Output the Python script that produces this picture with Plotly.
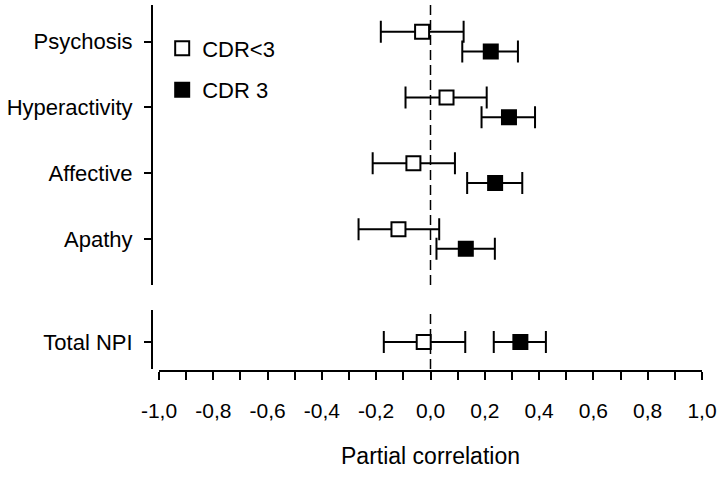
import plotly.graph_objects as go

# ---- data ----
categories = ["Psychosis", "Hyperactivity", "Affective", "Apathy"]
cat_pos = [4, 3, 2, 1]
total_label = ["Total NPI"]

low_r = [-0.031, 0.059, -0.063, -0.118]
low_lo = [-0.183, -0.092, -0.213, -0.265]
low_hi = [0.122, 0.207, 0.090, 0.032]

c3_r = [0.222, 0.289, 0.238, 0.130]
c3_lo = [0.117, 0.188, 0.135, 0.022]
c3_hi = [0.322, 0.385, 0.338, 0.237]

tot_low = [-0.025, -0.172, 0.128]   # r, lo, hi
tot_c3 = [0.331, 0.233, 0.425]

x_ticks = [-1.0, -0.8, -0.6, -0.4, -0.2, 0.0, 0.2, 0.4, 0.6, 0.8, 1.0]
x_ticklabels = ["-1,0", "-0,8", "-0,6", "-0,4", "-0,2", "0,0", "0,2", "0,4", "0,6", "0,8", "1,0"]

series_names = ["CDR<3", "CDR 3"]

FONT = "Liberation Sans Narrow, Arial Narrow, Liberation Sans, Arial, sans-serif"
off = 0.15

fig = go.Figure()

def add(xr, xlo, xhi, ys, fill, name, yaxis, show):
    fig.add_trace(go.Scatter(
        x=xr, y=ys, mode="markers", name=name, xaxis="x", yaxis=yaxis,
        legendgroup=name, showlegend=show,
        marker=dict(symbol="square", size=14, color=fill, line=dict(color="black", width=2)),
        error_x=dict(type="data", symmetric=False,
                     array=[h - r for r, h in zip(xr, xhi)],
                     arrayminus=[r - l for r, l in zip(xr, xlo)],
                     color="black", thickness=2, width=11),
    ))

add(low_r, low_lo, low_hi, [p + off for p in cat_pos], "white", series_names[0], "y2", True)
add(c3_r, c3_lo, c3_hi, [p - off for p in cat_pos], "black", series_names[1], "y2", True)
add([tot_low[0]], [tot_low[1]], [tot_low[2]], [0], "white", series_names[0], "y", False)
add([tot_c3[0]], [tot_c3[1]], [tot_c3[2]], [0], "black", series_names[1], "y", False)

for yr in ["y domain", "y2 domain"]:
    fig.add_shape(type="line", xref="x", yref=yr, x0=0, x1=0, y0=0, y1=1,
                  line=dict(color="black", width=1.5, dash="10px,5px"), layer="below")

fig.update_layout(
    width=718, height=478,
    margin=dict(l=150, r=14, t=5, b=107),
    plot_bgcolor="white", paper_bgcolor="white",
    font=dict(family=FONT, size=22, color="black"),
    showlegend=True,
    legend=dict(x=0.022, y=0.939, xanchor="left", yanchor="top",
                font=dict(size=22), tracegroupgap=10, itemwidth=30,
                bgcolor="rgba(0,0,0,0)"),
    xaxis=dict(domain=[0.01625, 0.9964], range=[-1.0, 1.0], anchor="free", position=0,
               tickvals=x_ticks, ticktext=x_ticklabels, tickfont=dict(size=21),
               showline=True, linecolor="black", linewidth=2,
               ticks="outside", ticklen=8, tickwidth=2, tickcolor="black",
               minor=dict(dtick=0.1, ticks="outside", ticklen=8, tickwidth=2, tickcolor="black"),
               showgrid=False, zeroline=False, ticklabelstandoff=13, automargin=False,
               title=dict(text="Partial correlation", standoff=26, font=dict(size=23))),
    yaxis=dict(domain=[0.00546, 0.1667], range=[-0.4105, 0.4866], anchor="free", position=0.0036,
               tickvals=[0], ticktext=total_label,
               showline=True, linecolor="black", linewidth=2,
               ticks="outside", ticklen=7, tickwidth=2, tickcolor="black",
               showgrid=False, zeroline=False, ticklabelstandoff=7, automargin=False),
    yaxis2=dict(domain=[0.235, 1.0], range=[0.3006, 4.558], anchor="free", position=0.0036,
                tickvals=cat_pos, ticktext=categories,
                showline=True, linecolor="black", linewidth=2,
                ticks="outside", ticklen=7, tickwidth=2, tickcolor="black",
                showgrid=False, zeroline=False, ticklabelstandoff=7, automargin=False),
)

fig.write_html("out.html", config={"displayModeBar": False},
               post_script="document.body.style.margin='0';document.body.style.overflow='hidden';")
